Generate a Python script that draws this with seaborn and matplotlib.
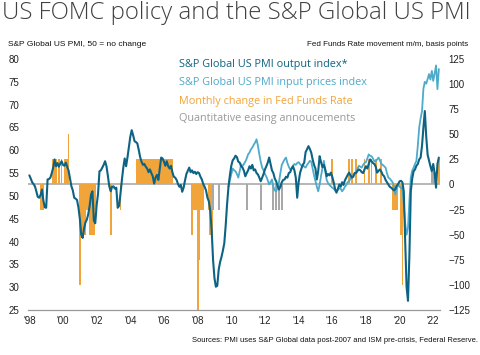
import numpy as np
import pandas as pd
import matplotlib
matplotlib.use("Agg")
import matplotlib.pyplot as plt
import seaborn as sns

# PMI output index, monthly from Jan 1998 to May 2022
output_start = "1998-01"
pmi_output = [
    54.5, 53.8, 53.0, 52.6, 52.1, 51.0, 49.8, 49.6, 50.2, 51.4, 49.0, 47.5,  # 1998
    47.4, 53.6, 53.7, 54.0, 55.0, 56.2, 58.0, 56.5, 57.2, 56.4, 57.0, 57.6,  # 1999
    56.8, 56.6, 57.3, 56.4, 55.5, 53.8, 52.1, 51.2, 49.6, 49.4, 49.1, 47.5,  # 2000
    45.0, 41.5, 40.8, 42.8, 44.2, 44.8, 46.0, 47.8, 50.3, 51.0, 44.6, 44.0,  # 2001
    48.0, 50.5, 55.4, 55.6, 56.2, 56.8, 57.6, 56.5, 54.4, 52.1, 51.0, 52.0,  # 2002
    52.1, 51.6, 51.8, 47.4, 47.8, 50.5, 53.5, 56.2, 58.2, 56.5, 58.5, 60.8,  # 2003
    63.0, 64.4, 63.3, 62.0, 61.8, 61.5, 60.1, 58.5, 57.5, 56.8, 57.0, 56.4,  # 2004
    56.0, 55.2, 55.8, 55.0, 54.3, 52.7, 54.0, 54.6, 53.5, 56.0, 58.4, 58.2,  # 2005
    57.5, 56.6, 57.6, 56.5, 56.0, 56.6, 55.2, 54.2, 54.0, 53.5, 52.6, 52.0,  # 2006
    52.4, 50.9, 51.8, 53.4, 54.8, 55.5, 56.2, 55.2, 55.6, 55.0, 55.3, 54.8,  # 2007
    55.2, 55.0, 54.2, 53.6, 52.6, 52.0, 51.2, 49.6, 48.8, 46.8, 42.5, 36.0,  # 2008
    32.0, 30.1, 30.3, 33.8, 35.5, 36.6, 38.0, 39.6, 43.5, 48.2, 52.0, 54.5,  # 2009
    56.6, 57.8, 58.2, 58.8, 58.5, 57.5, 57.3, 56.5, 56.2, 55.5, 54.3, 55.0,  # 2010
    55.6, 56.5, 56.0, 56.8, 55.6, 55.8, 55.0, 54.7, 54.0, 53.2, 54.0, 54.8,  # 2011
    55.8, 56.5, 57.3, 58.4, 57.0, 55.6, 55.0, 53.8, 53.2, 52.2, 51.4, 52.0,  # 2012
    53.0, 53.5, 53.6, 54.2, 54.0, 55.0, 55.2, 56.0, 56.5, 55.6, 54.0, 49.6,  # 2013
    53.0, 55.0, 56.0, 56.8, 57.3, 59.6, 60.2, 60.9, 60.3, 59.5, 58.0, 56.8,  # 2014
    56.0, 53.6, 55.5, 58.7, 57.4, 56.3, 56.8, 55.8, 54.3, 54.8, 54.5, 55.1,  # 2015
    54.2, 53.0, 51.5, 50.7, 51.5, 52.5, 52.0, 53.0, 52.4, 53.4, 54.0, 54.6,  # 2016
    55.1, 54.5, 54.0, 54.2, 55.0, 55.0, 55.5, 55.8, 55.6, 55.2, 55.0, 55.8,  # 2017
    56.5, 56.0, 57.0, 58.0, 57.6, 57.2, 57.0, 56.4, 55.1, 55.5, 55.8, 55.3,  # 2018
    54.6, 54.3, 53.5, 53.0, 52.5, 52.0, 51.8, 51.5, 51.2, 51.5, 52.2, 52.6,  # 2019
    53.2, 53.3, 53.0, 51.0, 40.0, 30.0, 27.0, 37.0, 51.0, 53.8, 55.4, 55.8,  # 2020
    56.6, 57.0, 58.0, 58.4, 61.0, 65.0, 68.6, 63.0, 59.0, 57.7, 56.5, 55.4,  # 2021
    57.0, 55.0, 51.8, 57.0, 58.4,                                            # 2022
]

# PMI input prices index, monthly from Nov 2009 to May 2022
input_start = "2009-11"
pmi_input = [
    52.0, 53.5,                                                              # 2009
    54.8, 56.0, 55.6, 55.4, 54.8, 54.0, 55.4, 56.9, 56.5, 57.0, 57.5, 58.2,  # 2010
    59.1, 59.5, 60.2, 60.6, 61.2, 61.7, 62.4, 61.0, 59.1, 57.5, 56.2, 55.6,  # 2011
    54.8, 54.2, 53.4, 52.5, 53.0, 53.6, 52.0, 51.2, 51.0, 52.0, 53.0, 55.0,  # 2012
    56.8, 57.4, 58.0, 58.4, 57.2, 56.4, 55.8, 56.0, 56.6, 57.0, 56.8, 57.2,  # 2013
    57.4, 57.0, 56.6, 56.8, 56.4, 56.2, 56.8, 57.2, 57.7, 57.5, 56.0, 54.5,  # 2014
    53.2, 52.0, 51.0, 52.5, 54.4, 56.0, 57.7, 55.5, 53.5, 52.8, 52.4, 52.1,  # 2015
    51.8, 51.6, 51.2, 51.0, 51.4, 51.6, 51.6, 51.0, 51.4, 52.0, 52.4, 53.0,  # 2016
    53.2, 53.8, 54.3, 54.6, 55.0, 55.3, 56.0, 56.6, 56.4, 56.2, 56.8, 57.2,  # 2017
    57.4, 58.2, 59.1, 58.8, 58.7, 58.2, 57.6, 57.6, 58.0, 58.4, 57.8, 57.0,  # 2018
    56.8, 56.5, 56.2, 55.0, 54.0, 53.8, 53.4, 53.0, 52.0, 50.3, 51.8, 52.5,  # 2019
    52.0, 51.8, 51.6, 48.0, 44.0, 41.5, 43.0, 49.0, 54.0, 55.5, 56.2, 57.0,  # 2020
    57.7, 61.0, 65.0, 67.0, 68.6, 73.5, 75.0, 74.6, 75.6, 76.7, 75.5, 77.4,  # 2021
    75.2, 76.8, 78.6, 73.4, 77.8,                                            # 2022
]

# monthly change in Fed Funds rate (basis points)
fed_dates = (
    ["1998-09", "1998-10", "1998-11",
     "1999-06", "1999-07", "1999-08", "1999-10", "1999-12",
     "2000-02", "2000-03", "2000-04", "2000-05",
     "2001-01", "2001-02", "2001-03", "2001-04", "2001-05", "2001-06",
     "2001-07", "2001-08", "2001-09", "2001-10", "2001-11", "2001-12",
     "2002-11", "2003-06"]
    + [str(p) for p in pd.period_range("2004-06", "2006-07", freq="M")]
    + ["2007-09", "2007-10", "2007-11", "2007-12", "2008-01", "2008-02",
       "2008-03", "2008-04", "2008-05", "2008-09", "2008-10", "2008-11",
       "2016-01", "2017-01", "2017-03", "2017-06", "2017-12", "2018-03",
       "2018-05", "2018-08", "2018-12",
       "2019-08", "2019-09", "2019-10", "2019-11",
       "2020-02", "2020-03", "2022-05"]
)
fed_bp = (
    [-25, -25, -25,
     25, 25, 25, 25, 25,
     25, 25, 25, 50,
     -100, -50, -50, -50, -50, -25,
     -25, -50, -50, -50, -50, -25,
     -50, -25]
    + [25] * 26
    + [-50, -25, -25, -25, -125, -75,
       -25, -25, -25, -25, -50, -50,
       25, 25, 25, 25, 25, 25,
       25, 25, 25,
       -25, -25, -25, -25,
       -50, -100, 25]
)

# QE announcements (drawn on the Fed Funds scale)
qe_dates = ["2008-12", "2009-04", "2010-12", "2011-10", "2012-07", "2012-09",
            "2012-11", "2013-01", "2021-12", "2022-01", "2022-02"]
qe_bp = [-25, -25, -25, -25, -25, -25, -25, -25, 12, 12, 12]

year_ticks = list(range(1998, 2023))


def dec_year(period):
    p = pd.Period(period, freq="M")
    return p.year + (p.month - 1) / 12


def monthly(start, values):
    p0 = pd.Period(start, freq="M")
    x = [dec_year(str(p0 + i)) for i in range(len(values))]
    return pd.DataFrame({"x": x, "y": values})


C_OUT = "#0d6383"
C_IN = "#4eaacb"
C_FED = "#f0a43a"
C_QE = "#a8a8a8"

sns.set_theme(style="white")
plt.rcParams["font.family"] = ["Liberation Sans", "DejaVu Sans"]

fig = plt.figure(figsize=(4.81, 3.55), dpi=100)
ax = fig.add_axes([0.0582, 0.1268, 0.8565, 0.707])
ax2 = ax.twinx()
ax.set_zorder(ax2.get_zorder() + 1)
ax.patch.set_visible(False)

# bars on the right axis
bar_w = 1.25 / 12
ax2.axhline(0, color="#aaaaaa", lw=1.2, zorder=1)
ax2.bar([dec_year(d) for d in fed_dates], fed_bp, width=bar_w,
        color=C_FED, linewidth=0, zorder=2)
ax2.bar([dec_year(d) for d in qe_dates], qe_bp, width=bar_w,
        color=C_QE, linewidth=0, zorder=2)

# PMI lines on the left axis
df_in = monthly(input_start, pmi_input)
df_out = monthly(output_start, pmi_output)
sns.lineplot(data=df_in, x="x", y="y", ax=ax, color=C_IN, lw=1.3)
sns.lineplot(data=df_out, x="x", y="y", ax=ax, color=C_OUT, lw=1.5)

ax.set_xlim(1997.92, 2022.4)
ax.set_ylim(25, 80)
ax2.set_ylim(-125, 125)
ax.set_yticks(range(25, 81, 5))
ax2.set_yticks(range(-125, 126, 25))
ax.set_xticks(year_ticks)
ax.set_xticklabels(["'%02d" % (y % 100) if (y - 1998) % 2 == 0 else "" for y in year_ticks])
ax.set_xlabel("")
ax.set_ylabel("")

for a in (ax, ax2):
    for s in a.spines.values():
        s.set_visible(False)
    a.grid(False)
ax.spines["bottom"].set_visible(True)
ax.spines["bottom"].set_color("#999999")
ax.spines["bottom"].set_linewidth(0.9)

ax.tick_params(axis="x", direction="out", length=2.5, width=0.7, color="#999999",
               pad=2, labelsize=7, labelcolor="#222222")
ax.tick_params(axis="y", length=0, pad=6, labelsize=7, labelcolor="#222222")
ax2.tick_params(axis="y", length=0, pad=6, labelsize=7, labelcolor="#222222")

# headers
fig.text(0.004, 0.963, "US FOMC policy and the S&P Global US PMI", fontsize=17.3,
         color="#404040", family=["Open Sans", "DejaVu Sans"], fontweight="light", va="center")
fig.text(0.017, 0.876, "S&P Global US PMI, 50 = no change", fontsize=6,
         color="#111111", va="center")
fig.text(0.973, 0.876, "Fed Funds Rate movement m/m, basis points", fontsize=5.8,
         color="#111111", va="center", ha="right")
fig.text(0.994, 0.04, "Sources: PMI uses S&P Global data post-2007 and ISM pre-crisis, Federal Reserve.",
         fontsize=5.5, color="#111111", va="center", ha="right")

legend_items = [
    ("S&P Global US PMI output index*", C_OUT),
    ("S&P Global US PMI input prices index", C_IN),
    ("Monthly change in Fed Funds Rate", C_FED),
    ("Quantitative easing annoucements", "#999999"),
]
for i, (txt, col) in enumerate(legend_items):
    fig.text(0.372, 1 - (65 + 18 * i) / 355, txt, fontsize=7.8, color=col,
             family=["Open Sans", "DejaVu Sans"], va="center")

fig.savefig("out.png", dpi=100)
